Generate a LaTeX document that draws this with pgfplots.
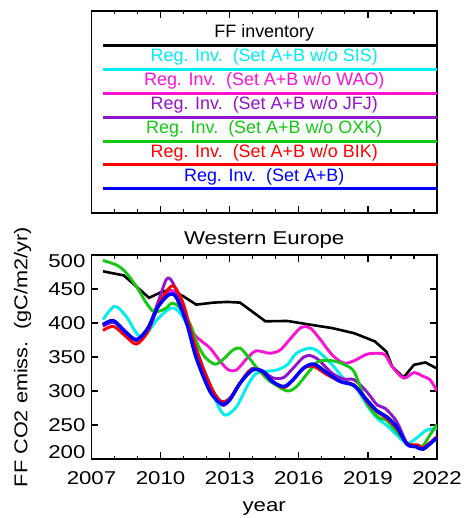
\documentclass[border=0pt]{standalone}
\usepackage{graphicx}
\usepackage{fontspec}
\setmainfont{Liberation Sans}
\usepackage{pgfplots}
\pgfplotsset{compat=1.18}
\definecolor{cyC}{RGB}{0,238,238}
\definecolor{mgC}{RGB}{250,20,210}
\definecolor{puC}{RGB}{145,20,205}
\definecolor{grC}{RGB}{20,200,20}
\definecolor{rdC}{RGB}{255,0,0}
\definecolor{blC}{RGB}{0,0,255}
\newcommand{\W}[1]{\scalebox{1.2}[1]{#1}}
\newcommand{\bigf}{\fontsize{18.6}{21}\selectfont}
\newcommand{\legf}{\fontsize{18}{21}\selectfont}
\begin{document}
\begin{tikzpicture}
\path[use as bounding box] (-91.5bp,-59bp) rectangle (375.5bp,459bp);
% ---------------- main axis ----------------
\begin{axis}[
  at={(0bp,0bp)}, anchor=south west,
  scale only axis, width=345.5bp, height=204bp,
  xmin=2007, xmax=2022, ymin=200, ymax=500,
  xtick={2007,2010,2013,2016,2019,2022},
  xticklabels={\W{2007},\W{2010},\W{2013},\W{2016},\W{2019},\W{2022}},
  minor xtick={2008,2009,2011,2012,2014,2015,2017,2018,2020,2021},
  ytick={200,250,300,350,400,450,500},
  yticklabels={{\raisebox{7bp}[\height][\depth]{\W{200}}},\W{250},\W{300},\W{350},\W{400},\W{450},{\raisebox{-6bp}[\height][\depth]{\W{500}}}},
  tick align=inside,
  major tick length=7bp, minor tick length=3.5bp,
  every tick/.style={black, line width=1.2bp},
  axis line style={line width=1.5bp},
  tick label style={font=\bigf},
  xticklabel style={yshift=-9.5bp},
  yticklabel style={xshift=-2.5bp},
  title={\W{Western Europe}},
  title style={font=\bigf, at={(axis description cs:0.5,1)}, anchor=base, yshift=5bp},
  xlabel={\W{year}},
  xlabel style={font=\bigf, at={(axis description cs:0.5,0)}, anchor=base, yshift=-52bp},
  ylabel={\scalebox{1.17}[1]{FF CO2 emiss.\ \ (gC/m2/yr)}},
  ylabel style={font=\bigf, at={(axis description cs:-0.1997,0.5)}, anchor=center},
]
% FF inventory
\addplot[black, line width=2.6bp, sharp plot] coordinates {
(2007.5,476) (2008.4,470) (2009.5,437) (2010.0,445) (2010.4,449) (2011.0,439) (2011.55,427)
(2012.3,430) (2012.9,431) (2013.45,430) (2014.55,402.5) (2015.5,403) (2016.5,397.5)
(2017.45,392.5) (2018.4,385) (2019.3,373) (2019.8,358) (2020.05,336) (2020.55,320)
(2021.0,338.5) (2021.5,342) (2022.0,333)};
% w/o SIS
\addplot[cyC, line width=2.9bp, smooth] coordinates {
(2007.5,405) (2008.0,424.5) (2008.5,410) (2009.0,383) (2009.35,382.5) (2009.85,405)
(2010.45,422) (2010.85,414.5) (2011.3,387.5) (2011.7,348.5) (2012.15,309) (2012.55,274.5)
(2012.85,264.5) (2013.3,277) (2013.75,306.5) (2014.15,326) (2014.75,329.5) (2015.05,331)
(2015.5,338.5) (2015.9,355.5) (2016.45,363) (2016.85,358) (2017.45,338.5) (2018.0,316.5)
(2018.5,304) (2018.95,279.5) (2019.4,260) (2019.8,250) (2020.25,235.5) (2020.7,223)
(2021.1,230.5) (2021.55,242.5) (2022.0,245)};
% w/o WAO
\addplot[mgC, line width=2.9bp, smooth] coordinates {
(2007.5,396) (2008.0,401) (2008.5,387) (2009.0,374) (2009.5,392) (2009.9,425)
(2010.35,447) (2010.7,440) (2011.1,408) (2011.45,384) (2011.75,374) (2012.15,363)
(2012.6,343) (2012.95,331) (2013.3,331) (2013.75,348) (2014.15,359) (2014.75,355.5)
(2015.2,360.5) (2015.6,375.5) (2016.1,393.5) (2016.5,392.5) (2016.95,375) (2017.45,353)
(2017.95,341) (2018.4,344.5) (2018.95,354) (2019.45,355.5) (2019.75,353) (2020.05,336)
(2020.55,319) (2021.0,327) (2021.4,321.5) (2021.7,316.5) (2022.0,300)};
% w/o JFJ
\addplot[puC, line width=2.9bp, smooth] coordinates {
(2007.5,395) (2007.95,401.5) (2008.45,387.5) (2008.95,374) (2009.45,392.5) (2009.85,427)
(2010.25,464) (2010.5,461) (2010.85,432) (2011.3,382.5) (2011.7,343.5) (2012.15,306.5)
(2012.65,279.5) (2013.0,287) (2013.6,319) (2014.0,333.5) (2014.45,328.5) (2014.9,319)
(2015.35,320) (2015.75,333.5) (2016.2,349.5) (2016.5,352) (2016.85,346) (2017.45,326)
(2017.95,317.5) (2018.4,316.5) (2018.95,299) (2019.4,279.5) (2019.75,274.5) (2020.25,255)
(2020.7,223) (2021.1,218) (2021.4,215.5) (2022.0,231.5)};
% w/o OXK
\addplot[grC, line width=2.9bp, smooth] coordinates {
(2007.5,492) (2008.1,485) (2008.5,474) (2009.0,451) (2009.35,431) (2009.65,418)
(2009.9,417) (2010.2,421) (2010.5,429) (2010.85,422) (2011.3,397) (2011.55,373)
(2011.9,351) (2012.35,339.5) (2012.7,346) (2013.15,360.5) (2013.45,363) (2013.8,350.5)
(2014.25,331) (2014.75,314) (2015.0,309) (2015.5,300) (2015.9,306.5) (2016.5,331)
(2016.85,343.5) (2017.45,344.5) (2018.0,338.5) (2018.4,328.5) (2018.8,294) (2019.1,274.5)
(2019.5,260) (2019.8,257.5) (2020.25,240) (2020.7,223) (2021.0,219.5) (2021.35,218)
(2021.65,233) (2022.0,251)};
% w/o BIK
\addplot[rdC, line width=2.9bp, smooth] coordinates {
(2007.5,389) (2007.95,395) (2008.45,381.5) (2008.95,369) (2009.45,387.5) (2009.9,427)
(2010.4,452.5) (2010.65,451.5) (2011.0,427) (2011.4,378) (2011.85,333.5) (2012.3,299)
(2012.65,284.5) (2013.0,289.5) (2013.45,311.5) (2013.85,329.5) (2014.3,331) (2014.8,316)
(2015.35,305) (2015.75,316.5) (2016.2,333.5) (2016.65,336) (2017.2,324.5) (2017.8,314)
(2018.4,309) (2018.95,284.5) (2019.4,269.5) (2019.8,260) (2020.25,245) (2020.7,223)
(2021.2,220.5) (2021.4,216.5) (2022.0,233)};
% Set A+B
\addplot[blC, line width=3.5bp, smooth] coordinates {
(2007.5,397.5) (2007.95,403.5) (2008.45,387.5) (2008.95,375.5) (2009.45,392.5) (2009.9,424.5)
(2010.4,442.5) (2010.7,436.5) (2011.15,397.5) (2011.55,348.5) (2012.15,299) (2012.65,281)
(2013.0,287) (2013.45,311.5) (2014.0,331) (2014.45,328.5) (2014.85,314) (2015.35,306.5)
(2015.75,316.5) (2016.2,333.5) (2016.65,339.5) (2017.2,327.5) (2017.8,314) (2018.4,308)
(2018.95,287) (2019.4,270.5) (2019.8,262.5) (2020.25,247.5) (2020.7,221.5) (2021.1,218)
(2021.4,214.5) (2022.0,231.5)};
\end{axis}
% ---------------- legend box ----------------
\begin{axis}[
  at={(0bp,246bp)}, anchor=south west,
  scale only axis, width=345.5bp, height=202bp,
  xmin=2007, xmax=2022, ymin=0, ymax=202,
  xtick={2007,2010,2013,2016,2019,2022}, xticklabels={},
  minor xtick={2008,2009,2011,2012,2014,2015,2017,2018,2020,2021},
  ytick=\empty,
  tick align=inside,
  major tick length=7bp, minor tick length=3.5bp,
  every tick/.style={black, line width=1.2bp},
  axis line style={line width=1.5bp},
]
\addplot[black, line width=3bp] coordinates {(2007.52,167) (2022,167)};
\addplot[cyC, line width=3bp] coordinates {(2007.52,143) (2022,143)};
\addplot[mgC, line width=3bp] coordinates {(2007.52,119) (2022,119)};
\addplot[puC, line width=3bp] coordinates {(2007.52,95) (2022,95)};
\addplot[grC, line width=3bp] coordinates {(2007.52,71) (2022,71)};
\addplot[rdC, line width=3bp] coordinates {(2007.52,48) (2022,48)};
\addplot[blC, line width=3bp] coordinates {(2007.52,24) (2022,24)};
\node[font=\legf, text=black] at (axis cs:2014.5,180) {FF inventory};
\node[font=\legf, text=cyC] at (axis cs:2014.5,156) {Reg. Inv.\ \ (Set A+B w/o SIS)};
\node[font=\legf, text=mgC] at (axis cs:2014.5,132) {Reg. Inv.\ \ (Set A+B w/o WAO)};
\node[font=\legf, text=puC] at (axis cs:2014.5,108) {Reg. Inv.\ \ (Set A+B w/o JFJ)};
\node[font=\legf, text=grC] at (axis cs:2014.5,84) {Reg. Inv.\ \ (Set A+B w/o OXK)};
\node[font=\legf, text=rdC] at (axis cs:2014.5,60) {Reg. Inv.\ \ (Set A+B w/o BIK)};
\node[font=\legf, text=blC] at (axis cs:2014.5,36) {Reg. Inv.\ \ (Set A+B)};
\end{axis}
\end{tikzpicture}
\end{document}
